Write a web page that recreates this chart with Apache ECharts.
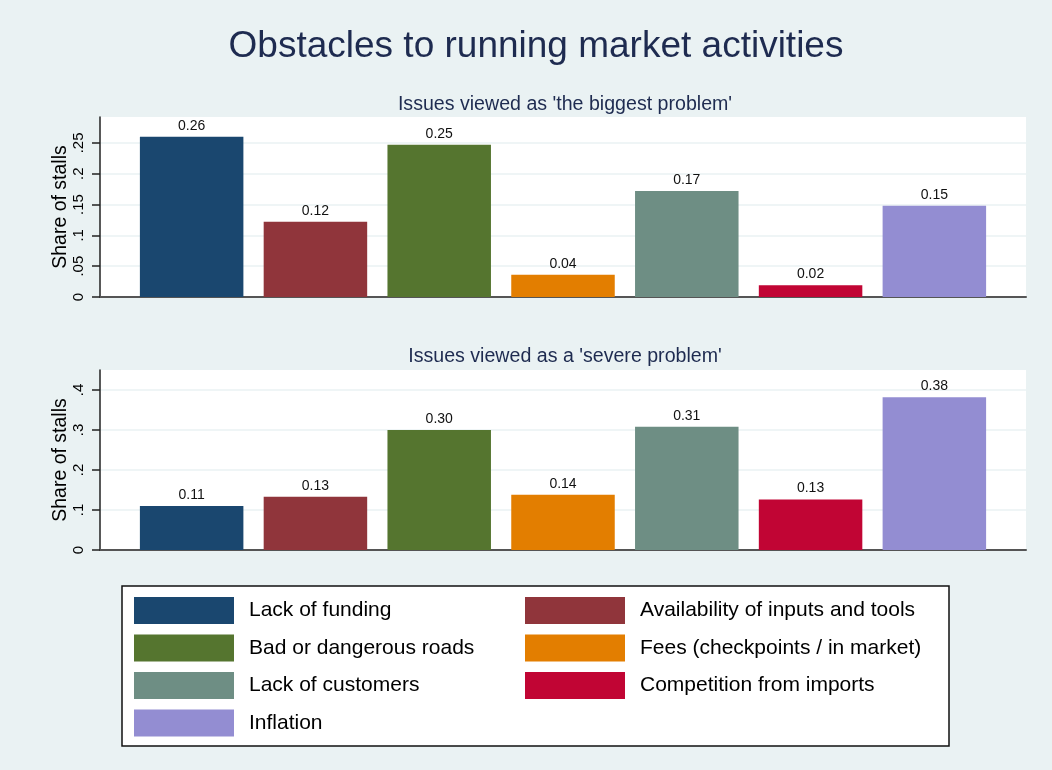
<!DOCTYPE html>
<html>
<head>
<meta charset="utf-8">
<script src="https://cdn.jsdelivr.net/npm/echarts@6/dist/echarts.min.js"></script>
<style>
    html, body { margin: 0; padding: 0; background: #EAF2F3; }
    #chart { width: 1052px; height: 770px; }
</style>
</head>
<body>
<div id="chart"></div>
<script>
const issues = [
    'Lack of funding',
    'Availability of inputs and tools',
    'Bad or dangerous roads',
    'Fees (checkpoints / in market)',
    'Lack of customers',
    'Competition from imports',
    'Inflation'
];
const colorList = ['#1A476F', '#90353B', '#55752F', '#E37E00', '#6E8E84', '#C10534', '#938DD2'];
// share of stalls
const biggestProblem = [0.26, 0.122, 0.247, 0.036, 0.172, 0.019, 0.148];
const severeProblem = [0.11, 0.133, 0.30, 0.138, 0.308, 0.126, 0.382];
const ticksTop = [0, 0.05, 0.1, 0.15, 0.2, 0.25];
const ticksBottom = [0, 0.1, 0.2, 0.3, 0.4];

const myChart = echarts.init(document.getElementById('chart'));

const fmtTick = (v) => v === 0 ? '0' : String(v).replace(/^0/, '');

const makeYAxis = (gridIndex, max, ticks) => ({
    type: 'value',
    gridIndex: gridIndex,
    min: 0,
    max: max,
    name: 'Share of stalls',
    nameLocation: 'middle',
    nameGap: 29,
    nameMoveOverlap: false,
    nameTextStyle: { fontSize: 19.5, color: '#000', fontFamily: 'Liberation Sans' },
    axisLine: { show: true, lineStyle: { color: '#222', width: 1.5 } },
    axisTick: { show: true, length: 8, customValues: ticks, lineStyle: { color: '#222', width: 1.5 } },
    axisLabel: {
        customValues: ticks,
        rotate: 90,
        margin: 14,
        fontSize: 15,
        color: '#000',
        fontFamily: 'Liberation Sans',
        formatter: fmtTick
    },
    splitLine: { show: true, lineStyle: { color: '#EAF2F3', width: 1.5 } }
});

const makeXAxis = (gridIndex) => ({
    type: 'category',
    gridIndex: gridIndex,
    data: [''],
    axisLine: { show: true, lineStyle: { color: '#555', width: 2 } },
    axisTick: { show: false },
    axisLabel: { show: false }
});

const series = [];
[biggestProblem, severeProblem].forEach((values, g) => {
    for (let i = 0; i < issues.length; i++) {
        series.push({
            type: 'bar',
            name: issues[i],
            xAxisIndex: g,
            yAxisIndex: g,
            barWidth: 103.5,
            barGap: '19.6%',
            itemStyle: { color: colorList[i] },
            label: {
                show: true,
                position: 'top',
                distance: 4,
                fontSize: 14,
                color: '#111',
                fontFamily: 'Liberation Sans',
                formatter: (p) => p.value.toFixed(2)
            },
            data: [values[i]]
        });
    }
});

const legendBase = {
    orient: 'vertical',
    top: 597,
    padding: 0,
    itemWidth: 100,
    itemHeight: 27,
    itemGap: 10.5,
    icon: 'rect',
    selectedMode: false,
    textStyle: { fontSize: 21, color: '#000', fontFamily: 'Liberation Sans', padding: [0, 0, 0, 10] }
};

const option = {
    backgroundColor: '#EAF2F3',
    animation: false,
    title: [
        {
            text: 'Obstacles to running market activities',
            left: 531,
            top: 23,
            textAlign: 'center',
            textStyle: { fontSize: 37, fontWeight: 'normal', color: '#1E2B50', fontFamily: 'Liberation Sans' }
        },
        {
            text: "Issues viewed as 'the biggest problem'",
            left: 560,
            top: 90,
            textAlign: 'center',
            textStyle: { fontSize: 19.6, fontWeight: 'normal', color: '#1E2B50', fontFamily: 'Liberation Sans' }
        },
        {
            text: "Issues viewed as a 'severe problem'",
            left: 560,
            top: 342,
            textAlign: 'center',
            textStyle: { fontSize: 19.6, fontWeight: 'normal', color: '#1E2B50', fontFamily: 'Liberation Sans' }
        }
    ],
    grid: [
        { left: 100, right: 26, top: 117, bottom: 473, show: true, backgroundColor: '#fff', borderWidth: 0 },
        { left: 100, right: 26, top: 370, bottom: 220, show: true, backgroundColor: '#fff', borderWidth: 0 }
    ],
    xAxis: [makeXAxis(0), makeXAxis(1)],
    yAxis: [makeYAxis(0, 0.292, ticksTop), makeYAxis(1, 0.45, ticksBottom)],
    legend: [
        Object.assign({}, legendBase, { left: 134, data: [issues[0], issues[2], issues[4], issues[6]] }),
        Object.assign({}, legendBase, { left: 525, data: [issues[1], issues[3], issues[5]] })
    ],
    graphic: [
        {
            type: 'rect',
            z: -1,
            shape: { x: 122, y: 586, width: 827, height: 160 },
            style: { fill: '#fff', stroke: '#111', lineWidth: 1.5 }
        }
    ],
    series: series
};

myChart.setOption(option);
</script>
</body>
</html>
